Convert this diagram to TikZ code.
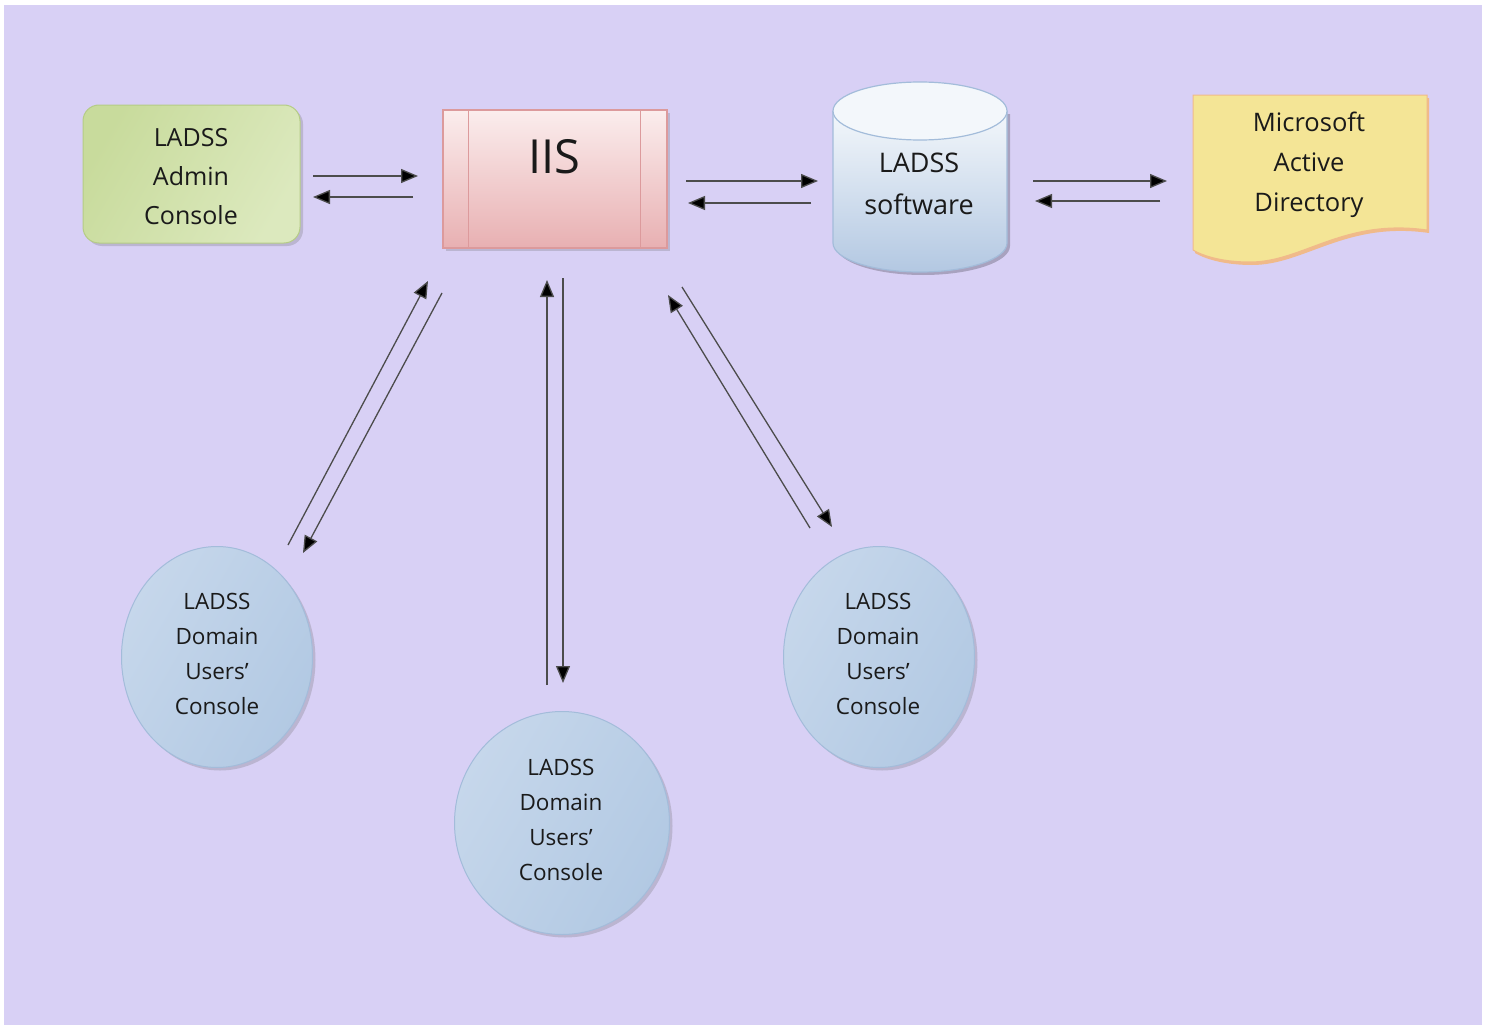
\documentclass[tikz,border=0pt]{standalone}
\usepackage{fontspec}
\setmainfont{Open Sans}
\usetikzlibrary{arrows.meta,shadows,shapes.geometric}
\definecolor{bgc}{HTML}{D8D0F5}
\definecolor{grA}{HTML}{C8DB9C}
\definecolor{grB}{HTML}{EEF4E2}
\definecolor{grC}{HTML}{DCE9BE}
\definecolor{grD}{HTML}{B5CC86}
\definecolor{pkA}{HTML}{FBEDED}
\definecolor{pkB}{HTML}{E8B0B2}
\definecolor{pkD}{HTML}{DC9A9C}
\definecolor{blA}{HTML}{F3F7FB}
\definecolor{blB}{HTML}{B3C8E2}
\definecolor{blD}{HTML}{A3BCDA}
\definecolor{elA}{HTML}{C6D7EB}
\definecolor{elB}{HTML}{EDF2F9}
\definecolor{elC}{HTML}{B2C9E3}
\definecolor{yeA}{HTML}{F4E596}
\definecolor{yeD}{HTML}{F0BA8A}
\definecolor{txt}{HTML}{1A1A1A}
\begin{document}
\begin{tikzpicture}[x=1pt,y=-1pt,
  softshadow/.style={drop shadow={shadow xshift=3pt,shadow yshift=-3pt,opacity=0.25,fill=black!60}},
  adminbox/.style={rectangle,rounded corners=16pt,minimum width=217pt,minimum height=138pt,
    draw=grD,line width=1pt,left color=grA,middle color=grB,right color=grC,shading angle=60,
    align=center,text=txt,font=\fontsize{25}{39}\selectfont,softshadow},
  iisbox/.style={rectangle,minimum width=224pt,minimum height=138pt,draw=pkD,line width=1.2pt,
    top color=pkA,bottom color=pkB,softshadow},
  iisline/.style={draw=pkD,line width=1.2pt},
  usernode/.style={ellipse,draw=blD,line width=1pt,left color=elA,middle color=elB,right color=elC,
    shading angle=60,align=center,text=txt,font=\fontsize{22.5}{35}\selectfont,softshadow,inner sep=0pt},
  lbl/.style={align=center,text=txt},
  conn/.style={draw=black!70,line width=1.3pt,-{Triangle[length=17pt,width=14pt,fill=black]}}]
\useasboundingbox (0,0) rectangle (1489,1025);
\fill[white] (0,0) rectangle (1489,1025);
\fill[bgc] (4,5) rectangle (1482,1025);

% Admin console
\node[adminbox] (adm) at (191.5,174) {};
\node[lbl,font=\fontsize{25}{39}\selectfont] (admT) at (191,177) {LADSS\\Admin\\Console};

% IIS
\node[iisbox] (iis) at (555,179) {};
\draw[iisline] ([xshift=26pt]iis.north west) -- ([xshift=26pt]iis.south west);
\draw[iisline] ([xshift=-27pt]iis.north east) -- ([xshift=-27pt]iis.south east);
\node[lbl,font=\fontsize{47}{50}\selectfont] (iisT) at (554,157) {IIS};

% Cylinder
\fill[black,opacity=0.22] (836,114) -- (836,246) arc[start angle=180,end angle=0,x radius=87,y radius=29] -- (1010,114) -- cycle;
\shade[top color=blA,bottom color=blB] (833,111) -- (833,243) arc[start angle=180,end angle=0,x radius=87,y radius=29] -- (1007,111) -- cycle;
\draw[draw=blD,line width=1.2pt] (833,111) -- (833,243) arc[start angle=180,end angle=0,x radius=87,y radius=29] -- (1007,111);
\filldraw[fill=blA,draw=blD,line width=1.2pt] (920,111) ellipse[x radius=87,y radius=29];
\node[lbl,font=\fontsize{27}{42}\selectfont] (cyl) at (919,184) {LADSS\\software};

% Document
\fill[yeD] (1195,98) -- (1429,98) -- (1429,233) .. controls (1345,221) and (1305,265) .. (1252,265) .. controls (1227,265) and (1207,260) .. (1195,253) -- cycle;
\filldraw[fill=yeA,draw=yeD,line width=1pt] (1193,95) -- (1427,95) -- (1427,230) .. controls (1343,218) and (1303,262) .. (1250,262) .. controls (1225,262) and (1205,257) .. (1193,250) -- cycle;
\node[lbl,font=\fontsize{25.5}{40}\selectfont] (ad) at (1309,165) {Microsoft\\Active\\Directory};

% User consoles
\node[usernode,minimum width=191pt,minimum height=221pt] (u1) at (217,657) {};
\node[usernode,minimum width=215pt,minimum height=223pt] (u2) at (562,823) {};
\node[usernode,minimum width=191pt,minimum height=221pt] (u3) at (879,657) {};
\node[lbl,font=\fontsize{22.5}{35}\selectfont] (u1T) at (217,654) {LADSS\\Domain\\Users’\\Console};
\node[lbl,font=\fontsize{22.5}{35}\selectfont] (u2T) at (561,820) {LADSS\\Domain\\Users’\\Console};
\node[lbl,font=\fontsize{22.5}{35}\selectfont] (u3T) at (878,654) {LADSS\\Domain\\Users’\\Console};

% connector end points
\coordinate (a1s) at (313,176); \coordinate (a1e) at (418,176);
\coordinate (a2s) at (413,197); \coordinate (a2e) at (313,197);
\coordinate (b1s) at (686,181); \coordinate (b1e) at (818,181);
\coordinate (b2s) at (811,203); \coordinate (b2e) at (688,203);
\coordinate (c1s) at (1033,181); \coordinate (c1e) at (1167,181);
\coordinate (c2s) at (1160,201); \coordinate (c2e) at (1035,201);
\coordinate (d1s) at (288,545); \coordinate (d1e) at (428,281);
\coordinate (d2s) at (442,293); \coordinate (d2e) at (303,553);
\coordinate (e1s) at (547,685); \coordinate (e1e) at (547,280);
\coordinate (e2s) at (563,278); \coordinate (e2e) at (563,683);
\coordinate (f1s) at (810,528); \coordinate (f1e) at (668,295);
\coordinate (f2s) at (682,287); \coordinate (f2e) at (832,527);

\draw[conn] (a1s) -- (a1e);
\draw[conn] (a2s) -- (a2e);
\draw[conn] (b1s) -- (b1e);
\draw[conn] (b2s) -- (b2e);
\draw[conn] (c1s) -- (c1e);
\draw[conn] (c2s) -- (c2e);
\draw[conn] (d1s) -- (d1e);
\draw[conn] (d2s) -- (d2e);
\draw[conn] (e1s) -- (e1e);
\draw[conn] (e2s) -- (e2e);
\draw[conn] (f1s) -- (f1e);
\draw[conn] (f2s) -- (f2e);
\end{tikzpicture}
\end{document}
